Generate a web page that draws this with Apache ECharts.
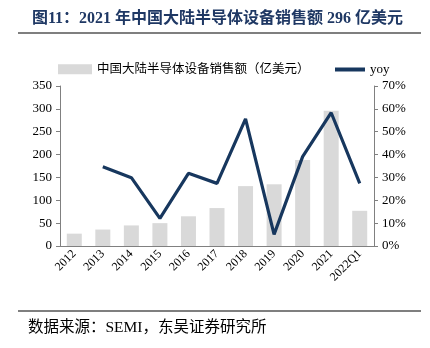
<!DOCTYPE html>
<html><head><meta charset="utf-8">
<script src="https://cdn.jsdelivr.net/npm/echarts@6/dist/echarts.min.js"></script>
<style>html,body{margin:0;padding:0;background:#fff}#c{width:430px;height:348px}</style>
</head><body><div id="c"></div>
<script>
const categories = ['2012','2013','2014','2015','2016','2017','2018','2019','2020','2021','2022Q1'];
const sales = [27, 36, 45, 50, 65, 83, 131, 135, 188, 296, 77];
const yoy = [null, 34.7, 29.9, 12.1, 31.8, 27.4, 55.6, 5.1, 39.1, 58.3, 27.4];
const leftTicks = [0, 350, 50];
const rightTicks = [0, 70, 10];

const serif = '"Liberation Serif","Times New Roman","Noto Sans CJK SC",serif';
const salesName = '中国大陆半导体设备销售额（亿美元）';
const chart = echarts.init(document.getElementById('c'), null, {renderer: 'canvas'});
chart.setOption({
  animation: false,
  backgroundColor: '#fff',
  title: {
    text: '图11：2021 年中国大陆半导体设备销售额 296 亿美元',
    left: 27, top: 6,
    textStyle: {fontFamily: serif, fontWeight: 'bold', fontSize: 16, color: '#1F3864'}
  },
  graphic: [
    {type: 'line', shape: {x1: 18, y1: 33, x2: 421, y2: 33}, style: {stroke: '#000', lineWidth: 1.2}},
    {type: 'line', shape: {x1: 18, y1: 311, x2: 421, y2: 311}, style: {stroke: '#000', lineWidth: 1.2}},
    {type: 'text', left: 28, top: 320, style: {text: '数据来源：SEMI，东吴证券研究所', font: '15.5px ' + serif, fill: '#000'}}
  ],
  legend: [
    {top: 58, left: 53, itemGap: 0,
     textStyle: {fontFamily: serif, fontSize: 12.5, color: '#000'},
     data: [{name: salesName, icon: 'rect', itemStyle: {color: '#D9D9D9'}}],
     itemWidth: 34, itemHeight: 10},
    {top: 58, left: 330,
     textStyle: {fontFamily: serif, fontSize: 13, color: '#000'},
     data: [{name: 'yoy', icon: 'rect', itemStyle: {color: '#17375E'}}],
     itemWidth: 30, itemHeight: 4}
  ],
  grid: {left: 60, right: 56, top: 86, bottom: 102},
  xAxis: {
    type: 'category', data: categories,
    axisLine: {lineStyle: {color: '#808080'}},
    axisTick: {inside: true, length: 4, lineStyle: {color: '#808080'}},
    axisLabel: {rotate: 45, interval: 0, fontFamily: serif, fontSize: 12, color: '#000', margin: 6}
  },
  yAxis: [
    {type: 'value', min: leftTicks[0], max: leftTicks[1], interval: leftTicks[2],
     splitLine: {show: false},
     axisLine: {show: true, lineStyle: {color: '#808080'}},
     axisTick: {show: true, length: 4, lineStyle: {color: '#808080'}},
     axisLabel: {fontFamily: serif, fontSize: 13, color: '#000', margin: 8}},
    {type: 'value', min: rightTicks[0], max: rightTicks[1], interval: rightTicks[2],
     splitLine: {show: false},
     axisLine: {show: true, lineStyle: {color: '#808080'}},
     axisTick: {show: true, length: 4, lineStyle: {color: '#808080'}},
     axisLabel: {fontFamily: serif, fontSize: 13, color: '#000', margin: 8, formatter: '{value}%'}}
  ],
  series: [
    {name: salesName, type: 'bar', data: sales, barWidth: 15,
     itemStyle: {color: '#D9D9D9'}},
    {name: 'yoy', type: 'line', yAxisIndex: 1, data: yoy, symbol: 'none',
     lineStyle: {color: '#17375E', width: 3.2}, itemStyle: {color: '#17375E'}}
  ]
});
</script></body></html>
